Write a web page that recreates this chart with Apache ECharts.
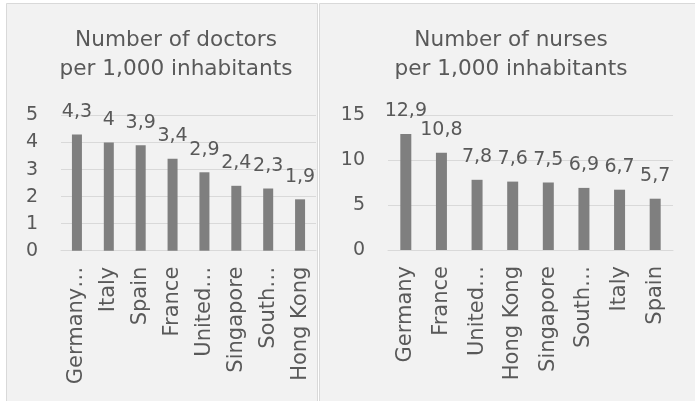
<!DOCTYPE html>
<html>
<head>
<meta charset="utf-8">
<script src="https://cdn.jsdelivr.net/npm/echarts@6/dist/echarts.min.js"></script>
<style>
html,body{margin:0;padding:0;background:#ffffff;}
#c{width:695px;height:401px;}
</style>
</head>
<body>
<div id="c"></div>
<script>
const doctorCategories = ['Germany…', 'Italy', 'Spain', 'France', 'United…', 'Singapore', 'South…', 'Hong Kong'];
const doctorValues = [4.3, 4, 3.9, 3.4, 2.9, 2.4, 2.3, 1.9];
const nurseCategories = ['Germany', 'France', 'United…', 'Hong Kong', 'Singapore', 'South…', 'Italy', 'Spain'];
const nurseValues = [12.9, 10.8, 7.8, 7.6, 7.5, 6.9, 6.7, 5.7];
const doctorTicks = {min: 0, max: 5, interval: 1};
const nurseTicks = {min: 0, max: 15, interval: 5};

const FONT = 'DejaVu Sans';
const TXT = '#595959';
const fmt = p => String(p.value).replace('.', ',');

const chart = echarts.init(document.getElementById('c'), null, {renderer: 'canvas'});

function yAxis(idx, t) {
  return {
    type: 'value', gridIndex: idx, min: t.min, max: t.max, interval: t.interval,
    axisLine: {show: false}, axisTick: {show: false},
    axisLabel: {color: TXT, fontFamily: FONT, fontSize: 19, margin: 23, formatter: v => String(v)},
    splitLine: {lineStyle: {color: '#d9d9d9', width: 1}}
  };
}
function xAxis(idx, cats) {
  return {
    type: 'category', gridIndex: idx, data: cats,
    axisLine: {lineStyle: {color: '#d9d9d9', width: 1}}, axisTick: {show: false},
    axisLabel: {color: TXT, fontFamily: FONT, fontSize: 21, rotate: 90, margin: 16, interval: 0}
  };
}
function series(idx, vals, bw) {
  return {
    type: 'bar', xAxisIndex: idx, yAxisIndex: idx, data: vals, barWidth: bw,
    itemStyle: {color: '#7f7f7f'},
    label: {show: true, position: 'top', distance: 13, color: TXT, fontFamily: FONT, fontSize: 19, formatter: fmt},
    silent: true, animation: false
  };
}

chart.setOption({
  animation: false,
  graphic: [
    {type: 'rect', z: -10, shape: {x: 6.5, y: 3.5, width: 311, height: 400}, style: {fill: '#f2f2f2', stroke: '#d9d9d9', lineWidth: 1}},
    {type: 'rect', z: -10, shape: {x: 319.5, y: 3.5, width: 380, height: 400}, style: {fill: '#f2f2f2', stroke: '#d9d9d9', lineWidth: 1}}
  ],
  title: [
    {text: 'Number of doctors\nper 1,000 inhabitants', left: 171, top: 21, textAlign: 'center',
     textStyle: {color: TXT, fontFamily: FONT, fontSize: 21.6, fontWeight: 'normal', lineHeight: 29}},
    {text: 'Number of nurses\nper 1,000 inhabitants', left: 506, top: 21, textAlign: 'center',
     textStyle: {color: TXT, fontFamily: FONT, fontSize: 21.6, fontWeight: 'normal', lineHeight: 29}}
  ],
  grid: [
    {left: 61, right: 379, top: 115.5, bottom: 150.3},
    {left: 388, right: 22, top: 115, bottom: 151}
  ],
  xAxis: [xAxis(0, doctorCategories), xAxis(1, nurseCategories)],
  yAxis: [yAxis(0, doctorTicks), yAxis(1, nurseTicks)],
  series: [series(0, doctorValues, 10), series(1, nurseValues, 11)]
});
</script>
</body>
</html>
